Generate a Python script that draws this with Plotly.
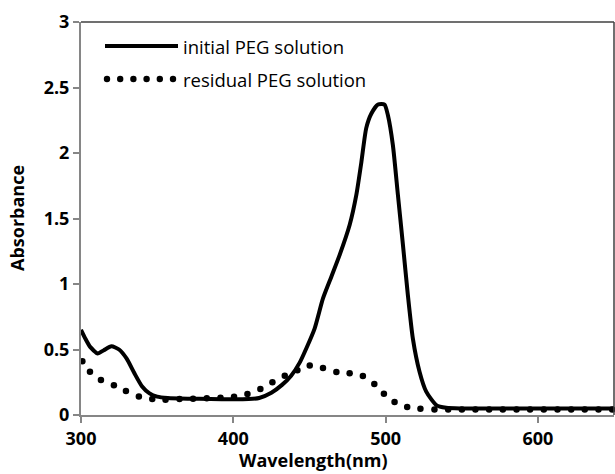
import plotly.graph_objects as go

# ---- data ----
initial_x = [300, 303, 306, 311, 315, 320, 325, 330, 335, 340, 345, 350, 357, 370, 385, 400,
             410, 417, 425, 432, 438, 443.6, 448, 453.4, 458.9, 464.4, 469.8, 476.4, 480.8,
             484.1, 487.3, 490.6, 495, 499.3, 501.5, 504.8, 508.1, 511.4, 514.6, 517.9,
             522.3, 526.7, 533.3, 539.8, 550, 600, 650]
initial_y = [0.65, 0.58, 0.52, 0.47, 0.495, 0.525, 0.50, 0.43, 0.32, 0.22, 0.165, 0.14, 0.13,
             0.125, 0.122, 0.12, 0.122, 0.13, 0.17, 0.23, 0.30, 0.40, 0.51, 0.66, 0.89, 1.056,
             1.22, 1.45, 1.68, 1.93, 2.19, 2.30, 2.37, 2.37, 2.29, 2.06, 1.68, 1.30, 0.92,
             0.585, 0.33, 0.178, 0.076, 0.055, 0.05, 0.05, 0.05]

residual_x = [300.9, 305.9, 313.1, 321.6, 329.5, 338.0, 346.8, 355.5, 364.7, 373.6, 382.6,
              391.6, 400.5, 409.3, 417.8, 425.7, 433.8, 442.1, 450.2, 458.9, 467.7, 476.4,
              485.1, 492.6, 498.9, 505.9, 514.2, 522.9, 532.1, 541.1, 550.1, 559.0, 568.0,
              577.0, 586.0, 594.9, 603.9, 612.9, 621.9, 630.8, 639.8, 648.8]
residual_y = [0.41, 0.331, 0.267, 0.227, 0.183, 0.142, 0.122, 0.117, 0.122, 0.124, 0.127,
              0.132, 0.140, 0.160, 0.198, 0.250, 0.300, 0.341, 0.377, 0.359, 0.328, 0.318,
              0.298, 0.237, 0.163, 0.099, 0.061, 0.048, 0.042, 0.042, 0.042, 0.042, 0.042,
              0.042, 0.042, 0.042, 0.042, 0.042, 0.042, 0.042, 0.042, 0.042]

series_names = ["initial PEG solution", "residual PEG solution"]
x_ticks = [300, 400, 500, 600]
y_ticks = [0, 0.5, 1, 1.5, 2, 2.5, 3]
y_tick_text = ["0", "0.5", "1", "1.5", "2", "2.5", "3"]
x_title = "Wavelength(nm)"
y_title = "Absorbance"

# ---- layout constants ----
W, H = 615, 474
ML, MR, MT, MB = 81, 1, 22, 59
PW, PH = W - ML - MR, H - MT - MB
FONT = "Open Sans"


def px(xp):
    return (xp - ML) / PW


def py(yp):
    return (H - MB - yp) / PH


fig = go.Figure()
fig.add_trace(go.Scatter(x=initial_x, y=initial_y, mode="lines", name=series_names[0],
                         line=dict(color="black", width=4, shape="spline", smoothing=0.6),
                         showlegend=False, cliponaxis=True))
fig.add_trace(go.Scatter(x=residual_x, y=residual_y, mode="markers", name=series_names[1],
                         marker=dict(color="black", size=6.5, symbol="circle", line=dict(width=0)),
                         showlegend=False, cliponaxis=False))

axis_col = "#868686"
fig.update_xaxes(range=[300, 650], tickvals=x_ticks, ticks="outside", ticklen=6,
                 tickwidth=1.5, tickcolor=axis_col, showline=True, linecolor=axis_col,
                 linewidth=2, showgrid=False, zeroline=False,
                 tickfont=dict(family=FONT, size=18, color="black", weight="bold"))
fig.update_yaxes(range=[0, 3], tickvals=y_ticks, ticktext=y_tick_text, ticks="outside",
                 ticklen=6, tickwidth=1.5, tickcolor=axis_col, showline=True,
                 linecolor=axis_col, linewidth=2, showgrid=False, zeroline=False,
                 tickfont=dict(family=FONT, size=18, color="black", weight="bold"))

shapes = [
    # top and right frame lines
    dict(type="line", xref="paper", yref="paper", x0=0, x1=1, y0=1, y1=1,
         line=dict(color="#404040", width=1.5)),
    dict(type="line", xref="paper", yref="paper", x0=1, x1=1, y0=0, y1=1,
         line=dict(color="#404040", width=1.5)),
    # legend swatch: solid line
    dict(type="line", xref="paper", yref="paper", x0=px(105), x1=px(178), y0=py(46), y1=py(46),
         line=dict(color="black", width=4)),
]
# legend swatch: dotted (6 dots)
r = 3.2
for cx in [107, 120.2, 133.4, 146.6, 159.8, 173]:
    shapes.append(dict(type="circle", xref="paper", yref="paper",
                       x0=px(cx - r), x1=px(cx + r), y0=py(79 + r), y1=py(79 - r),
                       fillcolor="black", line=dict(width=0)))

annotations = [
    dict(text=series_names[0], xref="paper", yref="paper", x=px(181), y=py(46),
         xanchor="left", yanchor="middle", showarrow=False,
         font=dict(family=FONT, size=18.5, color="black")),
    dict(text=series_names[1], xref="paper", yref="paper", x=px(181), y=py(79),
         xanchor="left", yanchor="middle", showarrow=False,
         font=dict(family=FONT, size=18.5, color="black")),
    dict(text=x_title, xref="paper", yref="paper", x=px(313), y=py(460),
         xanchor="center", yanchor="middle", showarrow=False,
         font=dict(family=FONT, size=18, color="black", weight="bold")),
    dict(text=y_title, xref="paper", yref="paper", x=px(17), y=py(218), textangle=-90,
         xanchor="center", yanchor="middle", showarrow=False,
         font=dict(family=FONT, size=18, color="black", weight="bold")),
]

fig.update_layout(width=W, height=H, margin=dict(l=ML, r=MR, t=MT, b=MB),
                  paper_bgcolor="white", plot_bgcolor="white", shapes=shapes,
                  annotations=annotations, showlegend=False)

fig.write_html("out.html")
